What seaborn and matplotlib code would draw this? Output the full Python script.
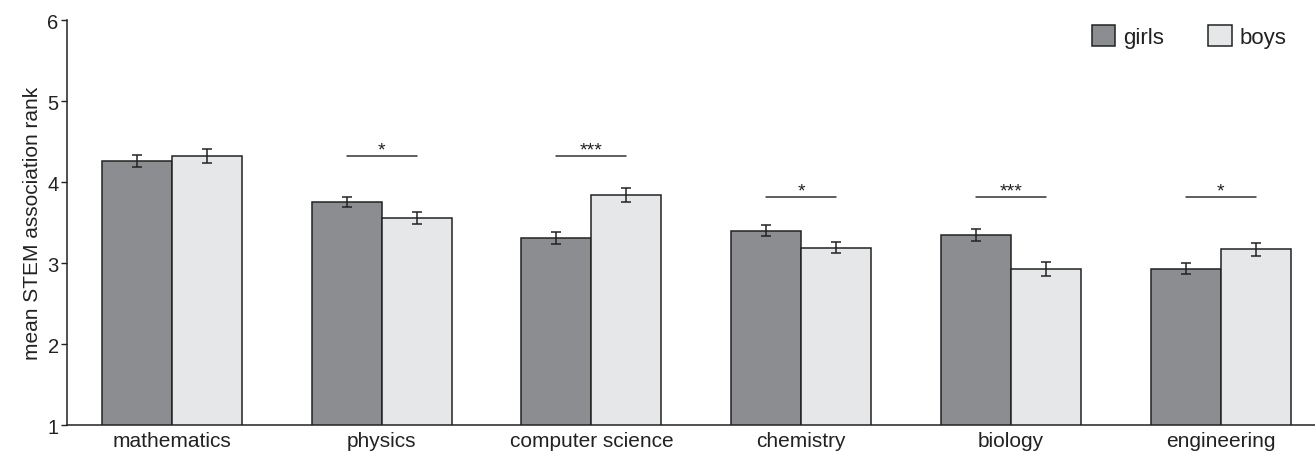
import numpy as np
import pandas as pd
import matplotlib
matplotlib.use("Agg")
import matplotlib.pyplot as plt
import seaborn as sns

# data
subjects = ["mathematics", "physics", "computer science", "chemistry", "biology", "engineering"]
girls = [4.26, 3.75, 3.31, 3.40, 3.35, 2.93]
boys = [4.32, 3.55, 3.84, 3.19, 2.93, 3.17]
girls_err = [0.074, 0.060, 0.072, 0.066, 0.076, 0.066]
boys_err = [0.086, 0.074, 0.082, 0.070, 0.086, 0.082]
sig_labels = ["", "*", "***", "*", "***", "*"]
sig_levels = [np.nan, 4.32, 4.32, 3.81, 3.81, 3.81]

df = pd.DataFrame({
    "subject": subjects * 2,
    "gender": ["girls"] * len(subjects) + ["boys"] * len(subjects),
    "rank": girls + boys,
})

sns.set_style("ticks")
plt.rcParams["font.family"] = ["Liberation Sans", "DejaVu Sans"]

fig = plt.figure(figsize=(13.15, 4.52), dpi=100)
ax = fig.add_axes([0.051, 0.0575, 0.949, 0.896])

sns.barplot(data=df, x="subject", y="rank", hue="gender",
            palette={"girls": "#8c8d91", "boys": "#e6e7e9"},
            width=2/3, errorbar=None, edgecolor="#222222", linewidth=1.1,
            saturation=1, ax=ax)

# error bars on the bar centres
for cont, errs in zip(ax.containers, [girls_err, boys_err]):
    xs = [p.get_x() + p.get_width() / 2 for p in cont.patches]
    ys = [p.get_height() for p in cont.patches]
    ax.errorbar(xs, ys, yerr=errs, fmt="none", ecolor="#222222",
                elinewidth=1.1, capsize=3.5, capthick=1.1)

# significance markers
for i, (lab, lv) in enumerate(zip(sig_labels, sig_levels)):
    if not lab:
        continue
    ax.plot([i - 1/6, i + 1/6], [lv, lv], color="#333333", lw=1.1)
    ax.text(i, lv - 0.027, lab, ha="center", va="bottom", fontsize=14, color="#222222")

ax.set_ylim(1, 6)
ax.set_yticks([1, 2, 3, 4, 5, 6])
ax.set_xlim(-0.5, 5.45)
ax.set_xlabel("")
ax.set_ylabel("mean STEM association rank", fontsize=15, color="#222222")
ax.tick_params(axis="y", labelsize=14.5, length=4, width=1, pad=2, colors="#222222")
ax.tick_params(axis="x", labelsize=15, length=0, pad=4, colors="#222222")
sns.despine(ax=ax)
for s in ["left", "bottom"]:
    ax.spines[s].set_color("#222222")
    ax.spines[s].set_linewidth(1.1)

leg = ax.legend(loc="upper right", ncol=2, frameon=False, fontsize=16,
                handlelength=1.05, handleheight=1.05, columnspacing=2.0,
                handletextpad=0.35, bbox_to_anchor=(0.993, 1.036))
for t in leg.get_texts():
    t.set_color("#222222")

fig.savefig("out.png", dpi=100)
